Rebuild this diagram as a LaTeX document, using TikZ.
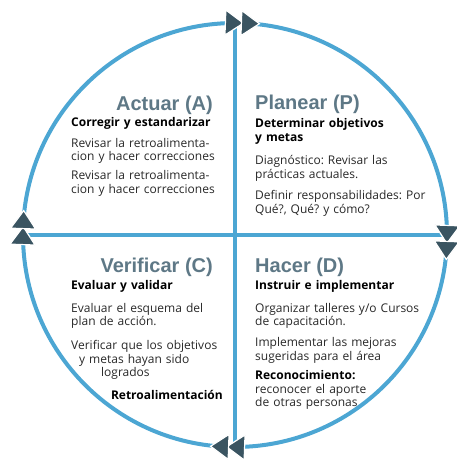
\documentclass[tikz,border=0pt]{standalone}
\usepackage{fontspec}
\setmainfont{Open Sans}
\newfontfamily\headfont{Liberation Sans}
\frenchspacing
\definecolor{ringblue}{RGB}{76,166,211}
\definecolor{chevcol}{RGB}{58,84,97}
\definecolor{headcol}{RGB}{94,120,134}
\definecolor{bodycol}{RGB}{40,40,40}

\tikzset{
    chev/.pic={
        \foreach \d in {-8,8}
            \filldraw[fill=chevcol, draw=white, line width=1.2pt]
                (\d-9,-12.5) -- (\d+9,0) -- (\d-9,12.5) -- cycle;
    }
}

\begin{document}
\begin{tikzpicture}[
        x=1pt, y=1pt,
        ring/.style={draw=ringblue, line width=4pt},
        heading/.style={font=\headfont\fontsize{20}{24}\selectfont\bfseries, text=headcol, inner sep=0pt},
        lead/.style={font=\fontsize{12}{13.4}\selectfont\bfseries, text=black, inner sep=0pt, text width=190pt, align=left},
        body/.style={font=\fontsize{12}{13.4}\selectfont, text=bodycol, inner sep=0pt, text width=190pt, align=left}
    ]
    \useasboundingbox (0,0) rectangle (456,464);
    \coordinate (c) at (235,229);

    % ring and cross
    \draw[ring] (c) circle (212);
    \draw[ring] ([shift={(180:212)}]c) -- ([shift={(0:212)}]c);
    \draw[ring] ([shift={(90:212)}]c) -- ([shift={(270:212)}]c);

    % chevrons, clockwise
    \foreach \a in {88,-2,268,178}
        \pic[rotate=\a-90] at ([shift={(\a:212)}]c) {chev};

    % Actuar
    \node[heading, anchor=base east] (actHead) at (213,353) {Actuar (A)};
    \node[lead, anchor=base west] (actLead) at (71,337) {Corregir y estandarizar};
    \node[body, anchor=base west] (actTxtA) at (71,316.5) {Revisar la retroalimenta-\\cion y hacer correcciones};
    \node[body, anchor=base west] (actTxtB) at (71,284) {Revisar la retroalimenta-\\cion y hacer correcciones};

    % Planear
    \node[heading, anchor=base west] (plaHead) at (255,354) {Planear (P)};
    \node[lead, anchor=base west] (plaLead) at (255,336) {Determinar objetivos\\y metas};
    \node[body, anchor=base west] (plaTxtA) at (255,299) {Diagnóstico: Revisar las\\prácticas actuales.};
    \node[body, anchor=base west] (plaTxtB) at (255,264) {Definir responsabilidades: Por\\Qué?, Qué? y cómo?};

    % Verificar
    \node[heading, anchor=base east] (verHead) at (213,191.5) {Verificar (C)};
    \node[lead, anchor=base west] (verLead) at (71,174) {Evaluar y validar};
    \node[body, anchor=base west] (verTxtA) at (71,151.5) {Evaluar el esquema del\\plan de acción.};
    \node[body, anchor=base west] (verTxtB) at (71,114) {Verificar que los objetivos\\\hspace*{8pt}y metas hayan sido\\\hspace*{30pt}logrados};
    \node[lead, text width=, anchor=base east] (verFeed) at (223,64) {Retroalimentación};

    % Hacer
    \node[heading, anchor=base west] (hacHead) at (255,191.5) {Hacer (D)};
    \node[lead, anchor=base west] (hacLead) at (255,174) {Instruir e implementar};
    \node[body, anchor=base west] (hacTxtA) at (255,151.5) {Organizar talleres y/o Cursos\\de capacitación.};
    \node[body, anchor=base west] (hacTxtB) at (255,117) {Implementar las mejoras\\sugeridas para el área};
    \node[body, anchor=base west] (hacTxtC) at (255,84) {\textbf{\color{black}Reconocimiento:}\\reconocer el aporte\\de otras personas};
\end{tikzpicture}
\end{document}
